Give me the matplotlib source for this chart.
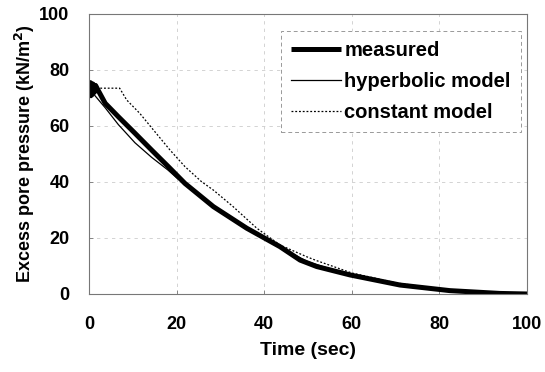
import numpy as np
import matplotlib.pyplot as plt

plt.rcParams['font.family'] = ['Liberation Sans', 'DejaVu Sans']
plt.rcParams['font.weight'] = 'bold'

# measured excess pore pressure (noisy at start)
t_meas = [0, 0.3, 0.6, 0.9, 1.2, 1.5, 2, 3.7, 6.7, 10.5, 14.3, 18.1, 21.9,
          28.4, 36, 43.6, 48.2, 52, 59.6, 71, 82.4, 93.8, 100]
u_meas = [70, 75.5, 71, 75, 72, 74.5, 73, 68.1, 63.3, 57.4, 51.4, 45.5, 39.5,
          31.2, 23.5, 16.9, 12.1, 9.8, 6.8, 3.2, 1.2, 0.2, 0]

# hyperbolic model
t_hyp = [0, 1, 3.7, 6.7, 10.5, 14.3, 18, 20, 30, 40, 50, 60, 70, 80, 90, 100]
u_hyp = [73, 71.5, 66.5, 60.5, 54, 48.8, 44.3, 41.5, 29.3, 19.6, 11.5, 6.5, 3.3, 1.3, 0.3, 0]

# constant model
t_con = [0, 7, 8.6, 11.6, 14.7, 18.5, 21.9, 25.7, 28.4, 32.9, 38.3, 43.6,
         49.7, 52, 60, 70, 80, 90, 100]
u_con = [73.5, 73.5, 69.3, 64.5, 58.6, 51.4, 45.5, 40.1, 37.1, 31.2, 23.5, 17.5,
         13.3, 11.9, 7.5, 4, 1.8, 0.5, 0]

fig = plt.figure(figsize=(5.45, 3.72), dpi=100)
ax = fig.add_axes([0.1633, 0.2097, 0.967 - 0.1633, 0.9624 - 0.2097])

ax.plot(t_meas, u_meas, color='black', lw=3.6, label='measured', solid_capstyle='butt')
ax.plot(t_hyp, u_hyp, color='black', lw=0.9, label='hyperbolic model')
ax.plot(t_con, u_con, color='black', lw=0.9, ls=(0, (1.5, 1.5)), label='constant model')

ax.set_xlim(0, 100)
ax.set_ylim(0, 100)
ax.set_xticks([0, 20, 40, 60, 80, 100])
ax.set_yticks([0, 20, 40, 60, 80, 100])
ax.grid(True, color='#cccccc', ls=(0, (4, 5)), lw=0.6)
for s in ax.spines.values():
    s.set_color('#777777')
    s.set_linewidth(0.8)
ax.tick_params(direction='in', length=3, width=0.6, colors='#777777',
               labelcolor='black', labelsize=13)
ax.tick_params(axis='x', pad=16)
ax.tick_params(axis='y', pad=14)
for lab in ax.get_xticklabels() + ax.get_yticklabels():
    lab.set_fontweight('bold')

ax.set_xlabel('Time (sec)', fontsize=14, fontweight='bold', labelpad=6)
ax.set_ylabel('Excess pore pressure (kN/m$^\\mathbf{2}$)', fontsize=13,
              fontweight='bold', labelpad=2)

leg = ax.legend(loc='upper right', bbox_to_anchor=(0.986, 0.939), fontsize=14.5,
                handlelength=2.5, handletextpad=0.15, labelspacing=0.6,
                borderpad=0.5, borderaxespad=0, fancybox=False, framealpha=1)
leg.get_frame().set_edgecolor('#999999')
leg.get_frame().set_linestyle((0, (4, 3)))
leg.get_frame().set_linewidth(0.7)
for txt in leg.get_texts():
    txt.set_fontweight('bold')

fig.savefig('out.png', dpi=100)
